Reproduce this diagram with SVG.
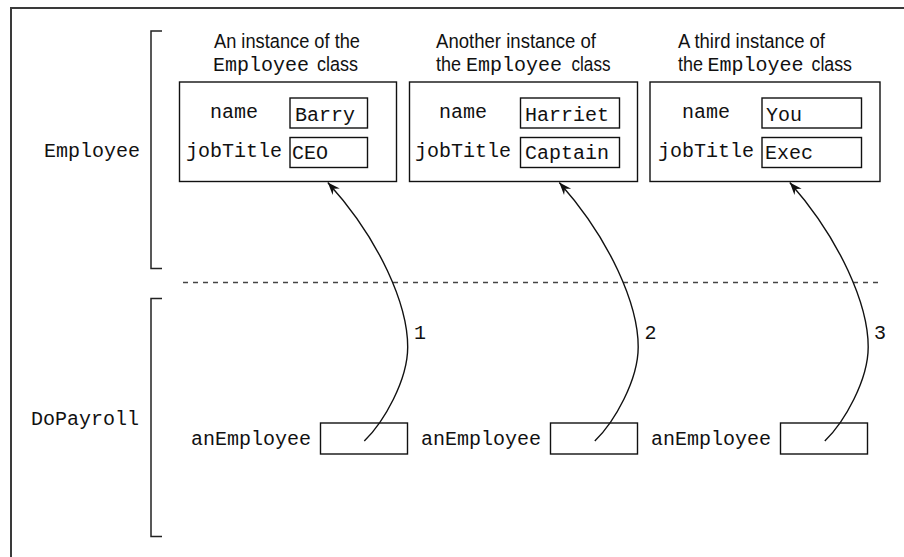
<svg xmlns="http://www.w3.org/2000/svg" width="904" height="557" viewBox="0 0 904 557">
<style>
.mono{font-family:"Courier New","Liberation Mono",monospace;font-size:20px;fill:#111}
.sans{font-family:"Liberation Sans",Arial,sans-serif;font-size:20.5px;fill:#111}
.box{fill:#fff;stroke:#111;stroke-width:1.4}
.frame{fill:none;stroke:#3a3a3a;stroke-width:2}
.bracket{fill:none;stroke:#222;stroke-width:1.5}
.conn{fill:none;stroke:#111;stroke-width:1.4}
.dash{fill:none;stroke:#444;stroke-width:1.5;stroke-dasharray:5 5}
</style>
<defs>
<marker id="ah" viewBox="-13 -6 14 12" refX="0" refY="0" markerWidth="14" markerHeight="12" orient="auto" markerUnits="userSpaceOnUse">
<path d="M0,0 L-12.5,-4.8 L-8.5,0 L-12.5,4.8 Z" fill="#111"/>
</marker>
</defs>
<rect width="904" height="557" fill="#fff"/>
<path class="frame" d="M11,557 V8 H904"/>

<g id="employee-bracket">
<path class="bracket" d="M162,31 H151 V268.5 H162"/>
<text class="mono" x="44" y="157">Employee</text>
</g>
<g id="dopayroll-bracket">
<path class="bracket" d="M162,298.5 H151 V536.5 H162"/>
<text class="mono" x="31" y="424.5">DoPayroll</text>
</g>

<path class="dash" d="M183,282.5 H881"/>

<g id="instance1">
<text class="sans" x="214" y="48" textLength="146" lengthAdjust="spacingAndGlyphs">An instance of the</text>
<text class="mono" x="213" y="70.5">Employee</text>
<text class="sans" x="317" y="70.5" textLength="41" lengthAdjust="spacingAndGlyphs">class</text>
<rect class="box" x="179.5" y="82" width="217" height="99.5"/>
<text class="mono" x="210" y="117.5">name</text>
<rect class="box" x="290" y="98" width="77.5" height="30"/>
<text class="mono" x="295" y="121">Barry</text>
<text class="mono" x="186" y="157">jobTitle</text>
<rect class="box" x="290" y="137.5" width="77.5" height="30"/>
<text class="mono" x="292" y="158.5">CEO</text>
</g>

<g id="instance2">
<text class="sans" x="436" y="48" textLength="160" lengthAdjust="spacingAndGlyphs">Another instance of</text>
<text class="sans" x="436" y="70.5" textLength="25" lengthAdjust="spacingAndGlyphs">the</text>
<text class="mono" x="466" y="70.5">Employee</text>
<text class="sans" x="571.5" y="70.5" textLength="39" lengthAdjust="spacingAndGlyphs">class</text>
<rect class="box" x="409.5" y="82" width="228" height="99.5"/>
<text class="mono" x="439" y="117.5">name</text>
<rect class="box" x="520.5" y="98" width="99" height="30"/>
<text class="mono" x="525" y="121">Harriet</text>
<text class="mono" x="415" y="157">jobTitle</text>
<rect class="box" x="520.5" y="137.5" width="99" height="30"/>
<text class="mono" x="525" y="158.5">Captain</text>
</g>

<g id="instance3">
<text class="sans" x="678" y="48" textLength="147" lengthAdjust="spacingAndGlyphs">A third instance of</text>
<text class="sans" x="678" y="70.5" textLength="25" lengthAdjust="spacingAndGlyphs">the</text>
<text class="mono" x="707.5" y="70.5">Employee</text>
<text class="sans" x="811.5" y="70.5" textLength="40.5" lengthAdjust="spacingAndGlyphs">class</text>
<rect class="box" x="650" y="82" width="230" height="99.5"/>
<text class="mono" x="682" y="117.5">name</text>
<rect class="box" x="762" y="98" width="99.5" height="30"/>
<text class="mono" x="766" y="121">You</text>
<text class="mono" x="658" y="157">jobTitle</text>
<rect class="box" x="762" y="137.5" width="99.5" height="30"/>
<text class="mono" x="765" y="158.5">Exec</text>
</g>

<g id="var1">
<text class="mono" x="191" y="444.5">anEmployee</text>
<rect class="box" x="320.5" y="423" width="87" height="31"/>
</g>
<g id="var2">
<text class="mono" x="421" y="444.5">anEmployee</text>
<rect class="box" x="550.5" y="423" width="87" height="31"/>
</g>
<g id="var3">
<text class="mono" x="651" y="444.5">anEmployee</text>
<rect class="box" x="780.5" y="423" width="87" height="31"/>
</g>

<g id="connectors">
<path class="conn" marker-end="url(#ah)" d="M364.3,441 C384,422 407.7,380 407.7,347 C407.7,305 380,240 327.8,182.5"/>
<path class="conn" marker-end="url(#ah)" transform="translate(230.5,0)" d="M364.3,441 C384,422 407.7,380 407.7,347 C407.7,305 380,240 328.8,182.5"/>
<path class="conn" marker-end="url(#ah)" transform="translate(460.5,0)" d="M364.3,441 C384,422 407.7,380 407.7,347 C407.7,305 380,240 329.3,182.5"/>
<text class="mono" x="414" y="338.5">1</text>
<text class="mono" x="644.5" y="338.5">2</text>
<text class="mono" x="874" y="338.5">3</text>
</g>
</svg>
